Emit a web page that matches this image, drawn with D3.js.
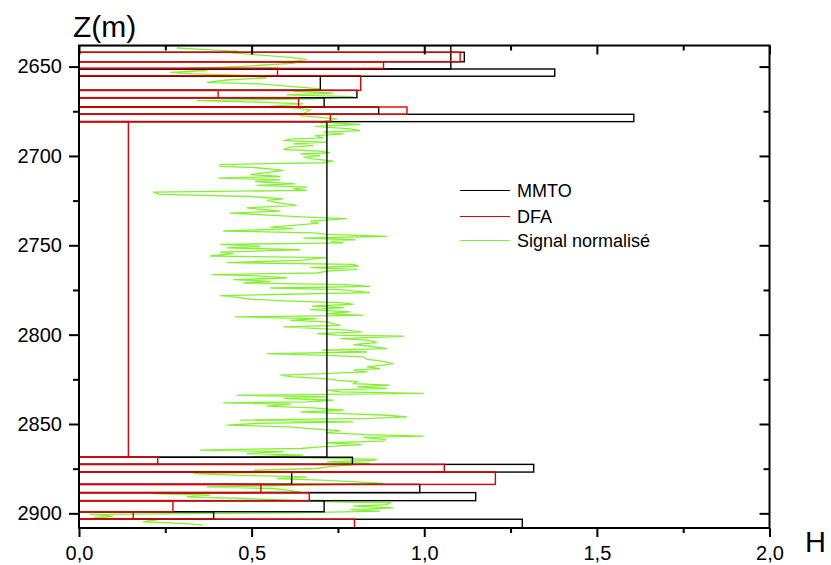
<!DOCTYPE html>
<html><head><meta charset="utf-8">
<script src="https://cdn.jsdelivr.net/npm/d3@7"></script>
<style>body{margin:0;background:#fff} svg{display:block} text{font-family:"Liberation Sans",Arial,sans-serif}</style>
</head><body><svg id="c" width="831" height="565"></svg>
<script>
// ---- axis ticks ----
const xMajor = [0, 0.5, 1.0, 1.5, 2.0];
const xTickLabels = ["0,0", "0,5", "1,0", "1,5", "2,0"];
const xMinor = [0.25, 0.75, 1.25, 1.75];
const yMajor = [2650, 2700, 2750, 2800, 2850, 2900];
const yTickLabels = ["2650", "2700", "2750", "2800", "2850", "2900"];
const yMinor = [2675, 2725, 2775, 2825, 2875];
const seriesNames = ["MMTO", "DFA", "Signal normalisé"];

// ---- MMTO (black) intervals ----
const mmtoTop    = [2638.2, 2642.0, 2651.35, 2655.4, 2663.3, 2667.4, 2672.6, 2676.7, 2680.8, 2868.6, 2872.6, 2876.9, 2883.8, 2888.4, 2892.9, 2899.1, 2903.3];
const mmtoBottom = [2651.35, 2647.3, 2655.4, 2663.3, 2667.4, 2672.6, 2676.7, 2680.8, 2868.6, 2872.6, 2876.9, 2883.8, 2888.4, 2892.9, 2899.1, 2903.3, 2908.2];
const mmtoH      = [1.077, 1.116, 1.378, 0.699, 0.805, 0.710, 0.868, 1.607, 0.718, 0.792, 1.317, 0.616, 0.987, 1.149, 0.710, 0.390, 1.284];

// ---- DFA (red) intervals ----
const dfaTop    = [2642.0, 2647.3, 2651.0, 2655.1, 2663.3, 2667.4, 2672.6, 2676.7, 2680.8, 2868.6, 2872.6, 2876.9, 2883.8, 2888.4, 2892.9, 2899.1, 2903.3];
const dfaBottom = [2647.3, 2651.0, 2655.1, 2663.3, 2667.4, 2672.6, 2676.7, 2680.8, 2868.6, 2872.6, 2876.9, 2883.8, 2888.4, 2892.9, 2899.1, 2903.3, 2908.2];
const dfaH      = [1.104, 0.882, 0.575, 0.816, 0.403, 0.636, 0.950, 0.728, 0.143, 0.228, 1.058, 1.206, 0.527, 0.667, 0.272, 0.157, 0.798];

// ---- normalised signal (green) ----
const sigDepth = [
2639.6,2640.7,2641.4,2642.4,2644.8,2646.1,2647.2,2648.1,2649.4,2650.4,2651.3,2652.2,2653.2,2654.1,2655.0,2656.3,2657.5,2658.8,2659.7,2661.2,2662.5,2663.8,2664.9,2665.8,2666.8,2668.1,2669.0,2669.9,2670.9,2672.4,2673.1,2674.2,
2677.4,2679.3,2681.1,2682.4,2683.5,2684.8,2685.8,2686.7,2687.6,2688.6,2689.9,2690.4,2691.4,2692.3,2693.2,2694.2,2695.1,2696.4,2697.3,2698.3,2698.8,2699.8,2700.7,2701.6,2702.9,2703.8,2704.8,2705.9,2706.6,2708.1,2709.1,2710.4,2711.5,2712.4,2713.4,2714.3,2715.6,2716.5,2717.4,2718.4,2719.3,2720.2,2721.5,2722.7,2724.0,2724.9,2726.4,2727.7,2729.0,2730.1,2730.9,2732.0,2733.3,2734.2,2735.1,2736.5,2737.6,2738.9,2739.8,2740.7,2742.0,2743.0,2743.9,2745.0,2746.0,2746.9,2747.8,2748.7,2749.5,2750.6,2751.4,2752.5,2753.8,2754.7,2756.0,2756.9,2758.4,2759.7,2760.7,2761.6,2762.5,2763.5,2764.4,2765.5,2766.4,2767.2,2768.3,2769.2,2770.2,2771.1,2772.0,2773.0,2773.9,2774.8,
2776.5,2777.4,2778.2,2779.3,2780.2,2781.2,2782.1,2783.0,2784.0,2784.9,2786.0,2787.3,2788.2,2789.2,2790.1,2791.0,2792.0,2792.9,2793.8,2794.8,2795.7,2796.6,2797.5,2798.5,2799.4,2800.3,2800.9,2802.2,2803.1,2804.4,2805.6,2806.5,2807.8,2808.7,2809.7,2810.6,2811.5,2812.4,2813.8,2814.7,2816.2,2817.1,2818.0,2819.0,2819.9,2820.8,2821.8,2822.7,2823.6,2824.6,2825.5,2826.4,2827.4,2828.3,2829.2,2830.1,2831.1,2832.0,2832.9,2833.9,2834.8,2835.7,2836.7,2837.6,2838.2,2838.9,2840.0,2841.0,2842.3,2843.2,2844.1,2845.1,2846.0,2846.9,2847.8,2848.8,2849.7,2850.6,2851.6,2852.5,2853.8,2854.9,2855.9,2856.8,2857.5,2858.7,2859.6,2860.5,2861.5,2862.8,2863.7,2864.6,2865.5,2866.5,2867.4,2868.3,2869.3,2869.8,
2870.3,2871.2,2872.1,2873.1,2874.0,2874.9,2875.9,2876.8,2877.7,2878.7,2879.6,2880.5,2881.5,2882.4,2883.3,2884.3,2885.2,2886.1,2887.0,2888.0,2888.9,2889.8,2890.8,2891.7,2892.6,2893.6,2894.1,2895.1,2896.0,2896.9,2897.9,2898.8,2899.7,2900.6,2901.6,2902.5,2903.4,2904.7,2905.7,2906.6];
const sigH = [
0.283,0.380,0.457,0.447,0.612,0.660,0.612,0.621,0.515,0.409,0.264,0.370,0.264,0.331,0.486,0.544,0.428,0.370,0.525,0.621,0.699,0.621,0.737,0.602,0.795,0.679,0.341,0.525,0.650,0.544,0.621,0.670,
0.641,0.747,0.699,0.814,0.684,0.786,0.814,0.708,0.766,0.684,0.708,0.621,0.592,0.718,0.621,0.679,0.612,0.592,0.699,0.728,0.641,0.699,0.650,0.679,0.737,0.708,0.409,0.409,0.515,0.592,0.554,0.496,0.583,0.404,0.583,0.510,0.626,0.515,0.660,0.621,0.660,0.215,0.235,0.496,0.592,0.544,0.583,0.631,0.486,0.539,0.583,0.438,0.563,0.660,0.776,0.670,0.694,0.621,0.554,0.621,0.418,0.679,0.718,0.892,0.650,0.800,0.728,0.766,0.409,0.525,0.428,0.641,0.409,0.447,0.380,0.718,0.641,0.428,0.795,0.810,0.670,0.805,0.718,0.689,0.385,0.525,0.602,0.447,0.554,0.476,0.776,0.843,0.554,0.757,
0.843,0.602,0.409,0.467,0.496,0.612,0.757,0.795,0.674,0.766,0.670,0.786,0.718,0.824,0.452,0.689,0.612,0.718,0.737,0.757,0.592,0.699,0.776,0.819,0.689,0.747,0.940,0.757,0.834,0.863,0.795,0.843,0.892,0.703,0.834,0.544,0.699,0.824,0.834,0.872,0.911,0.882,0.834,0.872,0.795,0.834,0.708,0.583,0.621,0.708,0.747,0.805,0.795,0.901,0.805,0.892,0.718,0.757,0.998,0.457,0.718,0.592,0.737,0.660,0.418,0.612,0.544,0.679,0.766,0.641,0.747,0.892,0.950,0.843,0.467,0.795,0.515,0.428,0.612,0.660,0.757,0.718,0.834,0.998,0.824,0.887,0.882,0.718,0.819,0.699,0.641,0.351,0.592,0.486,0.650,0.505,0.757,0.863,
0.853,0.718,0.843,0.766,0.718,0.689,0.505,0.621,0.331,0.467,0.660,0.573,0.718,0.805,0.882,0.621,0.370,0.563,0.602,0.641,0.215,0.380,0.312,0.486,0.602,0.728,0.901,0.892,0.795,0.911,0.786,0.872,0.621,0.032,0.099,0.041,0.235,0.186,0.312,0.360];

// ---- drawing ----
const svg = d3.select("#c");
const L = 79, R = 769.5, T = 45.5, B = 528;
const x = d3.scaleLinear().domain([0, 2]).range([L, R]);
const y = d3.scaleLinear().domain([2638.2, 2908.2]).range([T, B]);

svg.append("defs").append("clipPath").attr("id", "clip")
  .append("rect").attr("x", L).attr("y", T).attr("width", R - L).attr("height", B - T);
const g = svg.append("g").attr("clip-path", "url(#clip)");

g.append("path")
  .datum(d3.range(sigDepth.length))
  .attr("d", d3.line().x(i => x(sigH[i])).y(i => y(sigDepth[i])))
  .attr("fill", "none").attr("stroke", "#84f034").attr("stroke-width", 1.3);

function bars(top, bottom, h, color, cls) {
  g.selectAll("rect." + cls).data(d3.range(h.length)).join("rect")
    .attr("class", cls)
    .attr("x", x(0))
    .attr("y", i => y(top[i]))
    .attr("width", i => x(h[i]) - x(0))
    .attr("height", i => y(bottom[i]) - y(top[i]))
    .attr("fill", "none").attr("stroke", color).attr("stroke-width", 1.4);
}
bars(mmtoTop, mmtoBottom, mmtoH, "#000", "mmto");
bars(dfaTop, dfaBottom, dfaH, "#e00000", "dfa");

// axes
function styleAxis(sel) {
  sel.select(".domain").remove();
  sel.selectAll(".tick line").attr("stroke", "#000").attr("stroke-width", 2);
  sel.selectAll(".tick text").attr("font-size", 20).attr("fill", "#000")
    .attr("font-family", '"Liberation Sans", Arial, sans-serif');
}
svg.append("g").attr("transform", `translate(0,${B})`)
  .call(d3.axisBottom(x).tickValues(xMajor).tickSize(9).tickPadding(9).tickFormat((d, i) => xTickLabels[i])).call(styleAxis);
svg.append("g").attr("transform", `translate(0,${B})`)
  .call(d3.axisBottom(x).tickValues(xMinor).tickSize(5).tickFormat("")).call(styleAxis);
svg.append("g").attr("transform", `translate(0,${T})`)
  .call(d3.axisTop(x).tickValues(xMajor).tickSize(-9).tickFormat("")).call(styleAxis);
svg.append("g").attr("transform", `translate(0,${T})`)
  .call(d3.axisTop(x).tickValues(xMinor).tickSize(-5).tickFormat("")).call(styleAxis);
svg.append("g").attr("transform", `translate(${L},0)`)
  .call(d3.axisLeft(y).tickValues(yMajor).tickSize(10).tickPadding(7).tickFormat((d, i) => yTickLabels[i])).call(styleAxis);
svg.append("g").attr("transform", `translate(${L},0)`)
  .call(d3.axisLeft(y).tickValues(yMinor).tickSize(6).tickFormat("")).call(styleAxis);
svg.append("g").attr("transform", `translate(${R},0)`)
  .call(d3.axisRight(y).tickValues(yMajor).tickSize(-10).tickFormat("")).call(styleAxis);
svg.append("g").attr("transform", `translate(${R},0)`)
  .call(d3.axisRight(y).tickValues(yMinor).tickSize(-6).tickFormat("")).call(styleAxis);

svg.append("rect").attr("x", L).attr("y", T).attr("width", R - L).attr("height", B - T)
  .attr("fill", "none").attr("stroke", "#000").attr("stroke-width", 2);

svg.append("text").attr("x", 73).attr("y", 37).attr("font-size", 30).text("Z(m)");
svg.append("text").attr("x", 805).attr("y", 552).attr("font-size", 29).text("H");

// legend
const legColors = ["#000", "#e00000", "#84f034"];
const legY = [190.5, 216.5, 240.5];
const leg = svg.append("g");
seriesNames.forEach((n, i) => {
  leg.append("line").attr("x1", 460).attr("x2", 510).attr("y1", legY[i]).attr("y2", legY[i])
    .attr("stroke", legColors[i]).attr("stroke-width", 1);
  leg.append("text").attr("x", 517).attr("y", legY[i] + 6.5).attr("font-size", 18).text(n);
});
</script></body></html>
